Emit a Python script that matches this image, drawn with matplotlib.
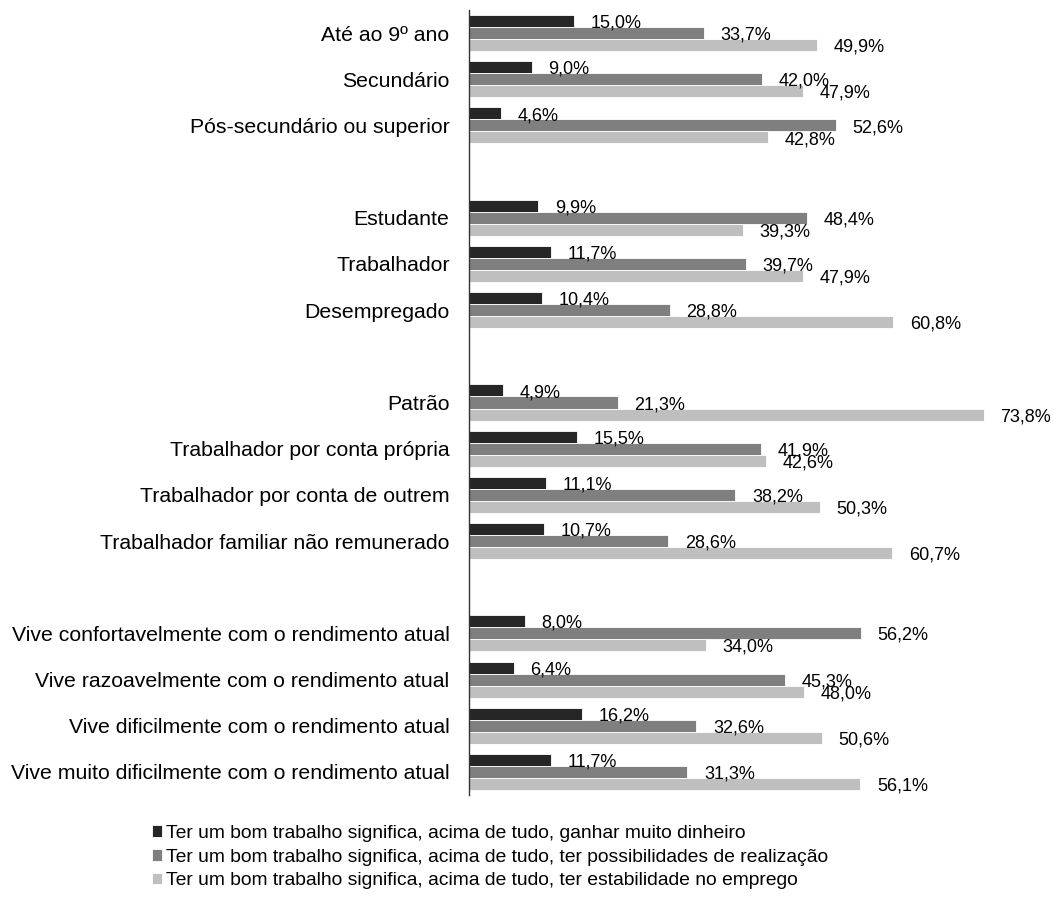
import matplotlib
matplotlib.use("Agg")
import matplotlib.pyplot as plt

plt.rcParams['font.family'] = ['Liberation Sans', 'DejaVu Sans']

categories = [
    ["Até ao 9º ano", "Secundário", "Pós-secundário ou superior"],
    ["Estudante", "Trabalhador", "Desempregado"],
    ["Patrão", "Trabalhador por conta própria", "Trabalhador por conta de outrem",
     "Trabalhador familiar não remunerado"],
    ["Vive confortavelmente com o rendimento atual", "Vive razoavelmente com o rendimento atual",
     "Vive dificilmente com o rendimento atual", "Vive muito dificilmente com o rendimento atual"],
]

dinheiro = [15.0, 9.0, 4.6, 9.9, 11.7, 10.4, 4.9, 15.5, 11.1, 10.7, 8.0, 6.4, 16.2, 11.7]
realizacao = [33.7, 42.0, 52.6, 48.4, 39.7, 28.8, 21.3, 41.9, 38.2, 28.6, 56.2, 45.3, 32.6, 31.3]
estabilidade = [49.9, 47.9, 42.8, 39.3, 47.9, 60.8, 73.8, 42.6, 50.3, 60.7, 34.0, 48.0, 50.6, 56.1]

series_names = [
    "Ter um bom trabalho significa, acima de tudo, ganhar muito dinheiro",
    "Ter um bom trabalho significa, acima de tudo, ter possibilidades de realização",
    "Ter um bom trabalho significa, acima de tudo, ter estabilidade no emprego",
]
colors = ["#262626", "#7f7f7f", "#bfbfbf"]

# positions with an empty slot between groups
labels, positions = [], []
pos = 0
for gi, grp in enumerate(categories):
    for c in grp:
        labels.append(c)
        positions.append(pos)
        pos += 1
    pos += 1

fig = plt.figure(figsize=(10.54, 8.97), dpi=100)
ax = fig.add_axes([469 / 1054, 1 - 795 / 897, (1027 - 469) / 1054, (795 - 10) / 897])

bh = 0.26
offsets = [-bh, 0, bh]
for s, (vals, col, name) in enumerate(zip([dinheiro, realizacao, estabilidade], colors, series_names)):
    ys = [p + offsets[s] for p in positions]
    ax.barh(ys, vals, height=bh, color=col, edgecolor="white", linewidth=0.6, label=name)
    for y, v in zip(ys, vals):
        ax.annotate(f"{v:.1f}%".replace(".", ","), xy=(v, y), xytext=(12, -1.5),
                    textcoords="offset points", ha="left", va="center", fontsize=13,
                    color="#000000")

ax.set_xlim(0, 80)
ax.set_ylim(positions[-1] + 0.5, -0.5)
ax.set_yticks(positions)
ax.set_yticklabels(labels, fontsize=15.3)
ax.tick_params(axis="y", length=0, pad=14)
ax.set_xticks([])
for sp in ["top", "right", "bottom"]:
    ax.spines[sp].set_visible(False)
ax.spines["left"].set_color("#333333")
ax.spines["left"].set_linewidth(1.0)

handles, lbls = ax.get_legend_handles_labels()
fig.legend(handles, lbls, loc="upper left", bbox_to_anchor=(142 / 1054, 1 - 815 / 897),
           frameon=False, fontsize=13.85, handlelength=0.55, handleheight=0.55,
           handletextpad=0.2, labelspacing=0.36, borderpad=0)

fig.savefig("out.png", dpi=100)
